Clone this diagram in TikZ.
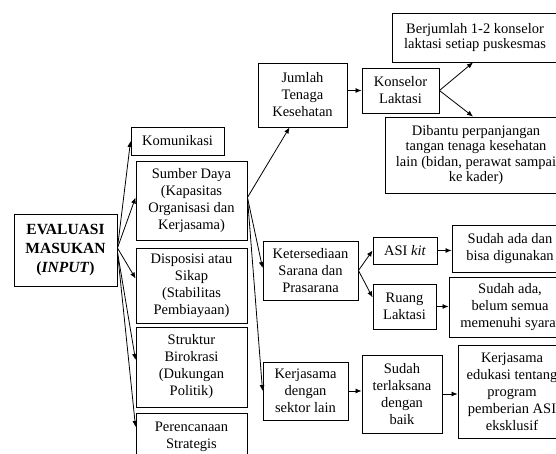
\documentclass[tikz,border=0pt]{standalone}
\usepackage{fontspec}
\setmainfont{Liberation Serif}
\usetikzlibrary{arrows.meta}
\begin{document}
\begin{tikzpicture}[x=1bp,y=-1bp,
  box/.style={draw=black,line width=0.9bp,align=center,inner sep=0pt,
    font=\fontsize{14.5bp}{17bp}\selectfont},
  tightbox/.style={box,font=\fontsize{14.5bp}{15.5bp}\selectfont},
  arr/.style={line width=0.8bp,-{Latex[length=6bp,width=5bp]}}]
\useasboundingbox (0,0) rectangle (556,454);
\clip (0,0) rectangle (556,454);
% left column
\node[box,font=\fontsize{15.5bp}{19bp}\selectfont,
  minimum width=103bp,minimum height=72bp] (eval) at (65.5,250)
  {\textbf{EVALUASI}\\\textbf{MASUKAN}\\\textbf{(\textit{INPUT})}};
\node[box,minimum width=93bp,minimum height=28bp] (kom) at (177.5,141) {Komunikasi};
\node[box,minimum width=111bp,minimum height=79bp] (sdm) at (191.5,200.5)
  {Sumber Daya\\(Kapasitas\\Organisasi dan\\Kerjasama)};
\node[box,minimum width=111bp,minimum height=75bp] (disp) at (191.5,285.5)
  {Disposisi atau\\Sikap\\(Stabilitas\\Pembiayaan)};
\node[box,minimum width=111bp,minimum height=80bp] (struk) at (191.5,367)
  {Struktur\\Birokrasi\\(Dukungan\\Politik)};
\node[box,minimum width=111bp,minimum height=47bp] (peren) at (191.5,436.5)
  {Perencanaan\\Strategis};
% staffing branch
\node[box,minimum width=89bp,minimum height=64bp] (jumlah) at (302.5,95)
  {Jumlah\\Tenaga\\Kesehatan};
\node[box,minimum width=77bp,minimum height=45bp] (kons) at (400.5,90.5)
  {Konselor\\Laktasi};
\node[tightbox,minimum width=166bp,minimum height=49bp] (berj) at (475,37.5)
  {Berjumlah 1-2 konselor\\laktasi setiap puskesmas};
\node[tightbox,minimum width=182bp,minimum height=76bp] (dib) at (476,155)
  {Dibantu perpanjangan\\tangan tenaga kesehatan\\lain (bidan, perawat sampai\\ke kader)};
% facilities branch
\node[box,minimum width=95bp,minimum height=59bp] (keters) at (310.5,270.5)
  {Ketersediaan\\Sarana dan\\Prasarana};
\node[box,minimum width=64bp,minimum height=27bp] (asikit) at (405,250.5)
  {ASI \textit{kit}};
\node[box,minimum width=116bp,minimum height=47bp] (sudah1) at (510,248.5)
  {Sudah ada dan\\bisa digunakan};
\node[box,minimum width=63bp,minimum height=45bp] (ruang) at (404.5,306.5)
  {Ruang\\Laktasi};
\node[box,minimum width=122bp,minimum height=60bp] (sudah2) at (510,307)
  {Sudah ada,\\belum semua\\memenuhi syarat};
% cooperation branch
\node[box,minimum width=85bp,minimum height=58bp] (kerj) at (305.5,391)
  {Kerjasama\\dengan\\sektor lain};
\node[box,minimum width=80bp,minimum height=78bp] (terl) at (402,394)
  {Sudah\\terlaksana\\dengan\\baik};
\node[box,minimum width=108bp,minimum height=93bp] (edu) at (512,391.5)
  {Kerjasama\\edukasi tentang\\program\\pemberian ASI\\eksklusif};
% connectors
\draw[arr] ([yshift=2bp]eval.east) -- (kom.west);
\draw[arr] ([yshift=2bp]eval.east) -- ([yshift=3bp]sdm.west);
\draw[arr] ([yshift=2bp]eval.east) -- ([yshift=7bp]disp.west);
\draw[arr] ([yshift=-2bp]eval.east) -- ([yshift=7bp]struk.west);
\draw[arr] ([yshift=-2bp]eval.east) -- ([yshift=9.5bp]peren.west);
\draw[arr] ([yshift=3bp]sdm.east) -- ([xshift=-13bp]jumlah.south);
\draw[arr] ([yshift=3bp]sdm.east) -- ([yshift=2.5bp]keters.west);
\draw[arr] ([yshift=3bp]sdm.east) -- (kerj.west);
\draw[arr] (jumlah.east |- kons.west) -- (kons.west);
\draw[arr] (kons.east) -- ([xshift=-2bp]berj.south);
\draw[arr] (kons.east) -- ([xshift=-3bp]dib.north);
\draw[arr] (keters.east) -- (asikit.west);
\draw[arr] (keters.east) -- ([yshift=9bp]ruang.west);
\draw[arr] (asikit.east) -- (asikit.east -| sudah1.west);
\draw[arr] (ruang.east) -- (ruang.east -| sudah2.west);
\draw[arr] (kerj.east) -- (kerj.east -| terl.west);
\draw[arr] (terl.east) -- (terl.east -| edu.west);
\end{tikzpicture}
\end{document}
